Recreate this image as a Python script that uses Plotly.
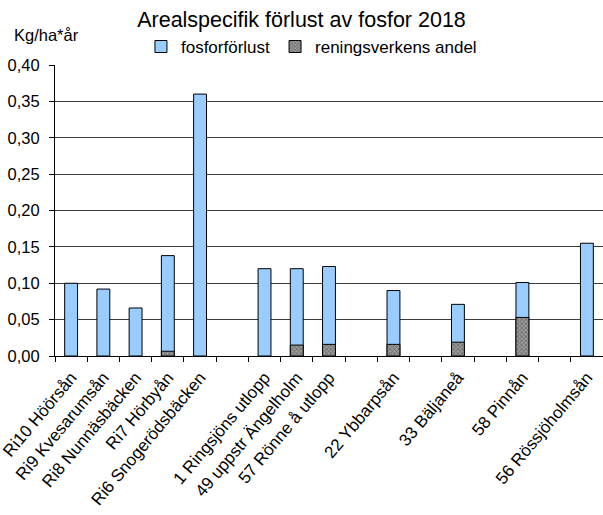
import plotly.graph_objects as go

categories = ["Ri10 Höörsån", "Ri9 Kvesarumsån", "Ri8 Nunnäsbäcken", "Ri7 Hörbyån",
              "Ri6 Snogerödsbäcken", " ", "1 Ringsjöns utlopp", "49 uppstr Ängelholm",
              "57 Rönne å utlopp", "  ", "22 Ybbarpsån", "   ", "33 Bäljaneå", "    ",
              "58 Pinnån", "     ", "56 Rössjöholmsån"]
fosforforlust = [0.100, 0.092, 0.066, 0.138, 0.360, None, 0.120, 0.120,
                 0.123, None, 0.090, None, 0.071, None, 0.101, None, 0.155]
reningsverk = [None, None, None, 0.0065, None, None, None, 0.015,
               0.016, None, 0.016, None, 0.019, None, 0.053, None, None]

FONT = "Liberation Sans, Arial, sans-serif"

fig = go.Figure()
fig.add_trace(go.Bar(
    x=categories, y=fosforforlust, name="fosforförlust",
    marker=dict(color="#99CCFF", line=dict(color="#000000", width=1)),
    width=0.4,
))
fig.add_trace(go.Bar(
    x=categories, y=reningsverk, name="reningsverkens andel",
    marker=dict(color="#8a8a8a", line=dict(color="#000000", width=1),
                pattern=dict(shape="x", fgcolor="#333333", bgcolor="#9a9a9a",
                             size=3, solidity=0.45)),
    width=0.4,
))

fig.update_layout(
    width=603, height=515,
    barmode="overlay",
    separators=", ",
    paper_bgcolor="white", plot_bgcolor="white",
    font=dict(family=FONT, size=16, color="black"),
    margin=dict(l=55, r=0, t=65, b=159, autoexpand=False),
    title=dict(text="Arealspecifik förlust av fosfor 2018", x=0.5, xref="container",
               xanchor="center", y=0.963, yref="container", yanchor="middle",
               font=dict(size=21.5, family=FONT)),
    legend=dict(orientation="h", x=0.468, xref="paper", xanchor="center",
                y=1.062, yref="paper", yanchor="middle", font=dict(size=17, family=FONT),
                itemwidth=30, tracegroupgap=0, bgcolor="rgba(0,0,0,0)"),
    showlegend=True,
    annotations=[dict(text="Kg/ha*år", x=-0.0785, y=1.103, xref="paper", yref="paper",
                      showarrow=False, xanchor="left", yanchor="middle",
                      font=dict(size=16.5, family=FONT))],
)

fig.update_xaxes(
    type="category", tickangle=-50, tickson="boundaries", ticks="outside",
    ticklen=5, tickcolor="black", showline=True, linecolor="black", linewidth=1,
    showgrid=False, tickfont=dict(size=17, family=FONT), automargin=False,
    ticklabelstandoff=4,
)
fig.update_yaxes(
    range=[0, 0.4], dtick=0.05, tickformat=".2f", ticks="outside", ticklen=5,
    tickcolor="black", showline=True, linecolor="black", linewidth=1,
    showgrid=True, gridcolor="#3a3a3a", gridwidth=1, zeroline=False,
    tickfont=dict(size=16.5, family=FONT), automargin=False,
    ticklabelstandoff=6,
)

fig.write_html("out.html")
